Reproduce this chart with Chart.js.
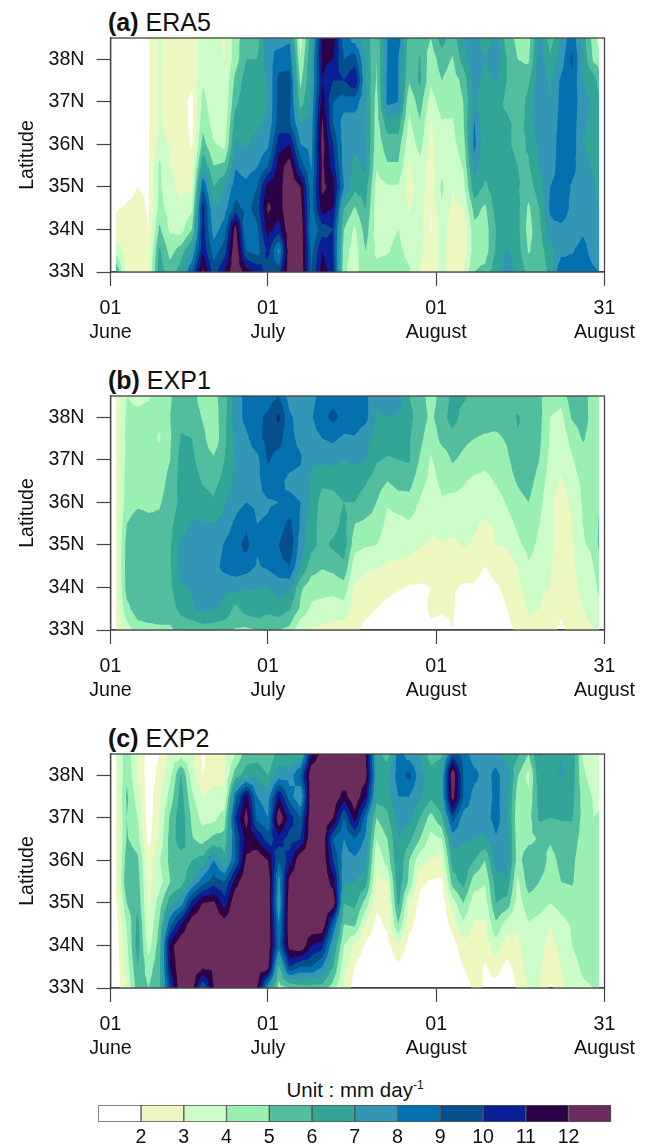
<!DOCTYPE html>
<html>
<head>
<meta charset="utf-8">
<script src="https://cdn.jsdelivr.net/npm/chart.js@4"></script>
<style>
  html, body { margin: 0; padding: 0; background: #fff; }
  body { position: relative; width: 646px; height: 1145px; overflow: hidden; font-family: "Liberation Sans", Arial, sans-serif; color: #111; }
  canvas { position: absolute; left: 0; }
  .head { position: absolute; left: 108px; font-size: 25px; line-height: 28px; white-space: nowrap; }
  #unit { position: absolute; left: 0; width: 710px; top: 1078px; text-align: center; font-size: 20.5px; line-height: 24px; }
  #unit sup { font-size: 12px; line-height: 0; }
</style>
</head>
<body>
<div class="head" style="top:8px"><b>(a)</b> ERA5</div>
<canvas id="panelA" width="646" height="350" style="top:0"></canvas>
<div class="head" style="top:366px"><b>(b)</b> EXP1</div>
<canvas id="panelB" width="646" height="350" style="top:358px"></canvas>
<div class="head" style="top:724px"><b>(c)</b> EXP2</div>
<canvas id="panelC" width="646" height="350" style="top:716px"></canvas>
<div id="unit">Unit : mm day<sup>-1</sup></div>
<canvas id="colorBar" width="646" height="55" style="top:1090px"></canvas>

<script>
// Axis labels
const latTicks = [33, 34, 35, 36, 37, 38];
const dayTicks = [0, 29, 60, 91];
const dayTickLabels = [['01', 'June'], ['01', 'July'], ['01', 'August'], ['31', 'August']];

// Grid the values were read on
const latitudes = [38.5, 38, 37.5, 37, 36.5, 36, 35.5, 35, 34.5, 34, 33.5, 33];
const days = [1, 3, 5, 7, 9, 11, 13, 15, 17, 19, 21, 23, 25, 27, 29, 31, 33, 35, 37, 39, 41, 43, 45,
  47, 49, 51, 53, 55, 57, 59, 61, 63, 65, 67, 69, 71, 73, 75, 77, 79, 81, 83, 85, 87, 89, 90];

// Rain rate, one line per entry of days, north to south along latitudes
const era5 = [
  [.5, .5, .5, .5, .5, .5, .5, .5, 1.9, 2.5, 3.5, 6],
  [1, 1, 1, 1, 1, 1, 1, 1.5, 2.2, 2.5, 2.5, 2.5],
  [1, 1, 1, 1, 1, 1, 1, 2, 2.3, 2.5, 2.5, 2.8],
  [1.9, 1.9, 1.9, 1.9, 1.9, 1.9, 1.9, 1.9, 1.9, 2, 2.5, 3],
  [3.2, 3.2, 3.2, 3.2, 3.2, 3.4, 4.2, 4.2, 4.4, 5.2, 6.2, 6.5],
  [2.5, 2.5, 2.3, 2.1, 2.5, 2.9, 3, 3.2, 3.5, 3.8, 4.6, 5.5],
  [2.5, 2.5, 2.5, 2.3, 2.3, 2.5, 2.7, 2.8, 3.1, 3.6, 5.5, 6.5],
  [2.6, 2.4, 2.2, 1.8, 1.8, 1.9, 2.5, 2.9, 3.8, 5, 7, 9],
  [3.4, 3.5, 3.9, 4.3, 4.7, 5.4, 6.8, 9, 10.5, 10.5, 10.8, 12.3],
  [3.2, 3.1, 3.2, 3.4, 3.6, 4.1, 5, 6, 7, 7.5, 8.5, 9.5],
  [2.9, 3, 3, 3.1, 3.4, 3.7, 5.2, 7, 7.5, 8.5, 9.5, 11],
  [4.5, 4.5, 5.3, 5.8, 6.5, 7.1, 7.9, 8.5, 9.4, 12.5, 13, 13],
  [5.7, 6, 6.5, 6.5, 6.7, 6.9, 7.5, 8.3, 8.6, 8, 9, 11.5],
  [5.5, 6, 6.5, 6.6, 6.8, 7.3, 7.9, 9, 9.5, 8.8, 8.5, 10.8],
  [8, 7.5, 7.1, 7, 7.2, 7.8, 9, 11.5, 12.2, 11.5, 10.3, 9.5],
  [7.5, 8.5, 9.3, 9.4, 9.5, 10.5, 11.5, 11.5, 11.5, 10.5, 7.7, 9.5],
  [7.8, 8.6, 9.4, 9.3, 9.1, 11, 12.5, 13, 13, 13, 13, 13],
  [3.5, 4, 4.7, 5.5, 7, 8, 9.5, 12, 12.5, 13, 13, 13],
  [6.5, 7, 7, 7.2, 7.5, 7.7, 7.9, 8.3, 8.5, 8, 8.7, 9],
  [11, 11.3, 11, 11.5, 12.2, 12.5, 12.2, 12.3, 11.5, 9.5, 11, 11.5],
  [11.5, 11, 10, 9, 9, 10, 10.5, 11.5, 11, 10, 10, 10.5],
  [8.5, 9, 10, 8.5, 7.5, 7.5, 7.5, 8, 6, 5, 4.5, 4.2],
  [7.5, 9.5, 11, 8.5, 7.5, 7.2, 6.8, 6.3, 4.9, 3.8, 3.5, 3.4],
  [6.5, 6.8, 7, 7.1, 7.3, 7.2, 7.2, 6.5, 6, 5.5, 5, 5],
  [5.2, 5, 4.9, 4.6, 4.5, 4.4, 4.1, 3.6, 3.5, 3.5, 3.8, 4.3],
  [8, 8, 8.2, 8.3, 6.5, 5.5, 4.9, 3.9, 3.8, 3.7, 3.9, 4.5],
  [8.7, 8, 8, 8, 6.5, 5.5, 4.9, 3.9, 3.9, 4, 4.3, 4.6],
  [5.5, 5.3, 5.1, 4.2, 3.8, 3.3, 2.8, 2.6, 2.9, 3.2, 3.6, 4.2],
  [5.5, 6.1, 6.2, 5.5, 4.9, 4.4, 3.7, 3.5, 3.5, 3.5, 3.2, 2.9],
  [5, 4.4, 4.2, 3.5, 2.9, 2.7, 2.5, 2.4, 2, 1.9, 2.5, 2.9],
  [6.5, 5.5, 5, 4.5, 3.9, 3.6, 3.7, 4.2, 3.9, 3.6, 3.3, 3.1],
  [5.4, 4.9, 4.5, 4.3, 3.9, 3.7, 3.4, 3, 2.8, 2.3, 2.6, 2.9],
  [7, 6.5, 5.3, 5, 4.9, 4.5, 4.1, 3.6, 3, 2.1, 2.2, 3],
  [7.5, 7.7, 7.7, 7.3, 8.1, 8.3, 7.4, 6.7, 5.4, 4.7, 4.6, 5],
  [6.1, 7, 6.5, 6, 6, 6.2, 6.4, 5.8, 4.8, 4.5, 4.5, 5.3],
  [7.5, 7.7, 7.1, 6.6, 6.2, 6.2, 6.4, 6.6, 6.4, 6, 6.1, 6.7],
  [5.5, 6, 6, 5.7, 6.3, 6.2, 6.5, 6.8, 6.6, 6.5, 7.1, 7.5],
  [4.7, 5, 5.2, 5, 5.6, 5.7, 6, 6.1, 6.3, 6.3, 6.4, 6.8],
  [4.5, 4.8, 5.8, 6.4, 6.3, 6.1, 5.9, 5.5, 4.8, 4.6, 4.9, 5.7],
  [7.5, 7.6, 7.7, 8, 7.8, 7.2, 7, 6.6, 6, 5.7, 5.5, 5.5],
  [5.5, 6.2, 6.8, 7, 7, 7, 7.3, 8, 8.2, 7.6, 6.6, 6.2],
  [7, 7.5, 8.2, 8.3, 8.5, 8.8, 8.7, 8.5, 9, 7.6, 7.6, 9],
  [8.8, 9.2, 8.8, 8.6, 8.6, 8.6, 8.3, 7.9, 7.6, 7.3, 7.9, 8.5],
  [6.5, 6.8, 7, 7.4, 7.2, 7, 7.5, 7.6, 7.7, 7.8, 8.4, 8.6],
  [4.5, 4.8, 6.5, 6.8, 6.7, 6.7, 6.8, 7.2, 7.5, 7.5, 7.5, 8.2],
  [3.5, 4.5, 5.5, 6.3, 6.5, 6.5, 6.5, 6.5, 7, 7.2, 7.3, 8]
];

const exp1 = [
  [2.5, 2.5, 2.5, 2.5, 2.5, 2.5, 2.5, 2.5, 2.5, 2.5, 2.5, 2.5],
  [4, 4.2, 4.3, 4.3, 4.4, 4.5, 5, 5.4, 5.5, 5.4, 4.7, 3.5],
  [3.7, 4.3, 4.6, 4.7, 4.8, 4.8, 5.5, 5.7, 5.8, 5.8, 5.6, 4.5],
  [3.9, 4.3, 4.4, 4.5, 4.6, 4.7, 5.3, 5.7, 6, 5.8, 5.6, 4.7],
  [4.6, 4.2, 3.9, 4.4, 4.6, 4.9, 5.2, 5.6, 5.8, 5.7, 5.6, 4.8],
  [4.9, 5, 4.9, 5, 5.3, 5.4, 5.7, 5.9, 5.9, 5.8, 5.6, 4.8],
  [5.5, 5.7, 6.1, 6.4, 6.4, 6.3, 6.7, 7.2, 7.4, 6.9, 6.3, 5.4],
  [5.4, 5.6, 6, 6.2, 6.5, 6.6, 7.1, 7.3, 7.4, 7.1, 6.9, 5.2],
  [4.5, 4.9, 5.3, 5.5, 5.9, 6.4, 7.1, 7.3, 7.5, 7.3, 7.3, 5.5],
  [4.7, 4.4, 4.2, 5.2, 5.7, 6.1, 7, 7.3, 7.5, 7.2, 7.1, 5.4],
  [5.5, 5.7, 5.8, 6, 6.3, 6.9, 7.4, 8.1, 8.4, 7.2, 6.8, 5.3],
  [7.5, 7.5, 7.3, 7.2, 7.3, 7.6, 8.2, 8.7, 8.7, 7.3, 5.7, 4.9],
  [8.3, 8.3, 7.8, 7.5, 7.4, 8, 8.8, 9.3, 8.5, 7.1, 6.5, 4.8],
  [8.4, 8.8, 8.6, 7.7, 7.7, 7.8, 8, 8.1, 7.9, 7, 6.8, 5],
  [8.5, 9.2, 9.4, 9.1, 8.6, 7.9, 8.1, 8.4, 8.2, 7, 6.3, 5.2],
  [9, 10.2, 9.4, 8.6, 8.2, 8, 8.5, 9, 8.7, 7.4, 6.6, 5],
  [7.5, 8.2, 8.2, 8.3, 7.8, 8.2, 9.3, 9.8, 9, 7.3, 6.1, 4.7],
  [7.2, 7.5, 7.8, 8.1, 7.7, 8, 7.9, 7.5, 7, 5.2, 4.8, 3.2],
  [7.6, 7.9, 7.6, 7.1, 6.9, 6.7, 6.4, 6.3, 5.5, 4.4, 3.8, 2.9],
  [8.5, 8.7, 8, 7.2, 6.2, 5.6, 5.6, 5.7, 5.1, 4.4, 3.6, 2.8],
  [8.6, 9.3, 8.2, 7.3, 6.3, 5.6, 5.6, 6.2, 5.3, 4.4, 3.4, 2.6],
  [8.2, 8.7, 7.8, 7, 6.6, 6, 6.3, 6.5, 5.8, 4.6, 3.6, 2.5],
  [8.6, 8.6, 7.9, 7.2, 6.4, 6, 5, 4.4, 3.4, 2.9, 2.4, 2.2],
  [8.3, 8.3, 7.3, 7, 6.1, 5.6, 4.8, 4.1, 3.1, 2.7, 2.2, 1.8],
  [7.1, 6.9, 6.7, 6.1, 5.5, 5, 4.7, 4, 3.1, 2.5, 2, 1.7],
  [7.5, 7, 6.5, 5.9, 5, 4.1, 3.7, 3.4, 2.9, 2.3, 1.7, 1.4],
  [7.5, 6.9, 6.4, 6, 5.4, 4.5, 3.6, 3.2, 2.9, 2.1, 1.5, 1.2],
  [6, 6.3, 6.1, 6.1, 5.4, 4.6, 3.9, 3.2, 2.8, 1.9, 1.4, 1.2],
  [5.5, 5.5, 5.3, 4.9, 4.4, 3.9, 3.6, 3.1, 2.4, 1.9, 1.5, 1.3],
  [4.5, 4.8, 4.3, 3.9, 3.7, 3.3, 3.2, 2.8, 2.3, 2, 2.2, 1.8],
  [5.4, 5.5, 5.3, 4.4, 4.2, 3.9, 3.5, 2.9, 2.7, 2.4, 2.1, 1.7],
  [6.2, 6.5, 5.5, 5.1, 4.5, 3.6, 3.3, 2.8, 2.4, 2.1, 2.1, 2],
  [6.2, 5.6, 5.2, 4.8, 4.1, 3.7, 3.4, 3.1, 2.4, 1.9, 1.5, 1.5],
  [5.6, 5.4, 5, 4.5, 3.8, 3.3, 3.1, 2.9, 2.4, 1.9, 1.6, 1.5],
  [5.5, 5.3, 4.9, 4.3, 3.7, 3.3, 2.9, 2.7, 2, 1.5, 1.3, 1.3],
  [5.5, 5.4, 4.8, 4.5, 4.1, 3.5, 3.1, 3, 2.4, 1.9, 1.6, 1.5],
  [5.6, 5.5, 5.1, 4.8, 4.6, 4.1, 3.6, 3.1, 2.5, 2.2, 2, 1.7],
  [5.5, 6.1, 5.9, 5.5, 5.1, 4.7, 4.2, 3.8, 3, 2.8, 2.6, 2.2],
  [5.5, 5.6, 5.9, 5.7, 5.4, 5, 4.6, 4.3, 3.9, 3.3, 3.1, 2.8],
  [5.2, 5.3, 5.2, 5, 4.6, 4.3, 4, 3.8, 3.6, 3.2, 3, 2.7],
  [4.5, 4, 3.9, 3.7, 3.5, 3.2, 3.3, 3.2, 3.1, 3, 2.5, 2.4],
  [4.4, 3.7, 3.4, 3.2, 2.9, 2.5, 2.4, 2.4, 2.4, 2.3, 2.2, 1.8],
  [5.6, 5.1, 4.3, 3.9, 3.6, 3.2, 3, 2.9, 2.8, 2.7, 2.6, 2.3],
  [5.5, 5.4, 5.1, 4.5, 4.2, 4.1, 4, 3.9, 3.4, 3.2, 3, 2.6],
  [4.4, 4.6, 4.6, 4.5, 4.4, 4.5, 4.4, 4.2, 4, 3.7, 3.4, 3],
  [4.4, 4.5, 4.6, 4.6, 4.7, 4.9, 5.1, 5.2, 4.5, 4.2, 3.8, 3.3]
];

const exp2 = [
  [3, 2.5, 2.4, 2.3, 2.2, 2.2, 2.1, 1.9, 1.5, 1.4, 1.3, 1.3],
  [4.6, 4.8, 5.2, 5, 5.1, 5.6, 6, 5, 4.1, 3.8, 3.5, 3.2],
  [3, 3, 3.5, 4, 4.5, 5.2, 5.5, 5.8, 6.3, 6.5, 6, 5.5],
  [1.5, 1.4, 1.4, 1.4, 1.6, 2.5, 2.6, 2.8, 3, 3.5, 4.5, 5],
  [2, 2.3, 2.8, 3, 3.3, 3.9, 3.5, 4.5, 5.1, 5.5, 5.7, 5.8],
  [3.4, 3.8, 4.4, 5.2, 5.4, 5.3, 5, 6.5, 8.8, 11.5, 11, 9.8],
  [3.5, 6.1, 6.5, 6.7, 6.6, 5.5, 5.5, 7.5, 11, 13, 13, 13],
  [3.3, 3.5, 4.2, 4.8, 5.1, 6, 7, 10.5, 12.8, 13, 13, 12.5],
  [1.8, 2, 3, 3.6, 4.6, 6.4, 8.5, 12, 13, 13, 12.2, 9],
  [2.7, 2.7, 3.3, 3.7, 5.3, 8, 9.5, 12.2, 13, 13, 12.3, 12],
  [2.8, 2.9, 3.1, 4.5, 5.4, 6.3, 9, 10.5, 12.5, 13, 13, 13],
  [4, 5.5, 8.5, 10, 9, 9, 11.5, 13, 13, 13, 13, 12.5],
  [5.5, 6.5, 11.5, 12.5, 11.5, 12.2, 13, 13, 13, 13, 13, 12.5],
  [5.5, 6.8, 8, 8.7, 11, 13, 13, 13, 13, 13, 13, 12],
  [5, 6, 7.5, 8, 9.5, 12, 13, 13, 13, 13, 12.5, 7.5],
  [6.5, 7.5, 11, 13, 10.5, 9, 7.5, 7, 8, 8.5, 5.8, 4.5],
  [6, 7.5, 8.5, 10.5, 9.5, 10.5, 12.5, 13, 13, 12.6, 10, 5],
  [6.3, 9, 7, 9, 10, 13, 13, 13, 13, 13, 9, 5.5],
  [11, 13, 13, 13, 13, 13, 13, 13, 13, 11, 9, 5.5],
  [12.5, 13, 13, 13, 13, 13, 13, 13, 13, 10.5, 8, 5.5],
  [13, 13, 13, 12, 9, 10, 11.5, 13, 9, 7, 6, 4.5],
  [13, 13, 11.5, 9, 8, 7.5, 7.2, 6, 5, 4, 3.4, 2.9],
  [13, 13, 13, 11.5, 9, 7.8, 7, 6.3, 5.2, 2.8, 2, 1.5],
  [12, 12.5, 11, 8.5, 7.8, 7.3, 6.5, 4.6, 2.9, 1.8, 1.4, 1.2],
  [6.5, 7, 6.5, 5, 4, 3.2, 2.7, 2.3, 1.7, 1.4, 1.2, 1.2],
  [5.5, 6.8, 6.5, 5.8, 5, 4.4, 3, 2.4, 2.2, 1.6, 1.3, 1.2],
  [8.5, 8.5, 8, 7.3, 7, 7, 6.8, 6.3, 5, 2.9, 1.8, 1.4],
  [7.5, 9.3, 8, 7.3, 6.3, 5, 4.8, 3, 2.3, 1.6, 1.4, 1.4],
  [7, 7.4, 7.2, 6, 5, 3.4, 2.2, 1.7, 1.5, 1.5, 1.3, 1.3],
  [5.5, 6.4, 6.3, 4.6, 3.6, 2.9, 1.9, 1.4, 1.2, 1.1, 1, 1],
  [5.8, 7, 7, 5.8, 4, 2.8, 1.8, 1.3, 1.2, 1, 1, 1],
  [9.5, 13, 12.6, 9.5, 7.4, 6.5, 5.5, 3.5, 2.4, 1.5, 1.2, 1],
  [8.5, 9, 9, 7.5, 7.1, 6.7, 6.4, 5, 3.8, 2.7, 2, 1.5],
  [7.5, 8.3, 7.6, 7.5, 7, 6, 4.5, 3.4, 2.9, 2.7, 2.5, 2.2],
  [7.5, 7.6, 7.4, 7.6, 6.8, 5, 4.1, 3.5, 2.9, 2.5, 1.9, 1.9],
  [7.5, 8.3, 8.3, 8.4, 7.9, 7.4, 6.5, 6, 4.8, 3.6, 2.4, 1.6],
  [6.5, 7.5, 7.4, 7.3, 7.5, 7.6, 6.8, 5.7, 3.5, 2.5, 1.7, 1.3],
  [6.2, 5.1, 4.5, 4.2, 4.4, 4.5, 3.8, 3.5, 3.1, 2.8, 2.4, 2.1],
  [5, 3.7, 4.2, 4.6, 4.7, 5.8, 5.5, 4.6, 3.9, 3.5, 3.6, 3.1],
  [7.1, 6.8, 6.4, 6.2, 5.1, 5.6, 5, 4.5, 3.6, 3.3, 3.1, 3],
  [6.5, 6.7, 6.3, 6, 5.1, 4.7, 4.6, 4, 3, 2.7, 2.6, 1.8],
  [7, 7.1, 6.5, 6.1, 5.5, 5.2, 5, 4.4, 3.7, 3.2, 3, 2.5],
  [6.8, 6.6, 6.4, 6.1, 5.5, 5.2, 5.1, 4.6, 4.1, 4, 3.8, 3.6],
  [3.9, 4.2, 4.6, 4.7, 4.6, 4.5, 4.4, 4.4, 4.3, 4.2, 4.1, 3.9],
  [3.2, 3.5, 3.9, 4, 4.2, 4.2, 4.2, 4.2, 4.2, 4.1, 4.2, 4],
  [3.3, 3.5, 3.7, 4.1, 4.5, 4.4, 4.5, 4.3, 4.2, 4.2, 5, 5]
];

// Contour levels and fill colours (first colour sits below the first level)
const levels = [2, 3, 4, 5, 6, 7, 8, 9, 10, 11, 12];
const bandColors = ['#ffffff', '#edf8c0', '#ccfcc8', '#99f0b2', '#53bd9f', '#32a696',
  '#3296b4', '#0570b0', '#05508c', '#0a1f96', '#2c0246', '#6a2c5a'];

const labelFont = { family: '"Liberation Sans", Arial, sans-serif', size: 19.6, lineHeight: 1.25 };
const axisColor = '#444';

// Clip a triangle [{x,y,v}..] to v >= level and add what is left to the current path
function addClippedTriangle(ctx, tri, level) {
  const out = [];
  for (let i = 0; i < 3; i++) {
    const a = tri[i];
    const b = tri[(i + 1) % 3];
    if (a.v >= level) out.push(a);
    if ((a.v >= level) !== (b.v >= level)) {
      const t = (level - a.v) / (b.v - a.v);
      out.push({ x: a.x + t * (b.x - a.x), y: a.y + t * (b.y - a.y) });
    }
  }
  if (out.length < 3) return;
  ctx.moveTo(out[0].x, out[0].y);
  for (let i = 1; i < out.length; i++) ctx.lineTo(out[i].x, out[i].y);
  ctx.closePath();
}

// Filled contours, painted from the lowest band up, using the points the scales placed
const contourFill = {
  id: 'contourFill',
  beforeDatasetsDraw(chart) {
    const ctx = chart.ctx;
    const columns = chart.data.datasets.map((ds, i) =>
      chart.getDatasetMeta(i).data.map((pt, j) => ({ x: pt.x, y: pt.y, v: ds.data[j].v })));
    ctx.save();
    levels.forEach((level, k) => {
      ctx.beginPath();
      for (let c = 0; c < columns.length - 1; c++) {
        for (let r = 0; r < latitudes.length - 1; r++) {
          const p = [columns[c][r], columns[c + 1][r], columns[c + 1][r + 1], columns[c][r + 1]];
          const mid = {
            x: (p[0].x + p[2].x) / 2,
            y: (p[0].y + p[2].y) / 2,
            v: (p[0].v + p[1].v + p[2].v + p[3].v) / 4
          };
          for (let e = 0; e < 4; e++) addClippedTriangle(ctx, [p[e], p[(e + 1) % 4], mid], level);
        }
      }
      ctx.fillStyle = bandColors[k + 1];
      ctx.fill();
    });
    ctx.restore();
  },
  afterDraw(chart) {
    const a = chart.chartArea;
    const ctx = chart.ctx;
    ctx.save();
    ctx.strokeStyle = axisColor;
    ctx.lineWidth = 1.3;
    ctx.strokeRect(a.left, a.top, a.right - a.left, a.bottom - a.top);
    ctx.restore();
  }
};

function drawPanel(canvasId, values) {
  new Chart(document.getElementById(canvasId), {
    type: 'scatter',
    data: {
      datasets: days.map((d, c) => ({
        label: 'day ' + d,
        data: latitudes.map((lat, r) => ({ x: d, y: lat, v: values[c][r] })),
        pointRadius: 0,
        showLine: false
      }))
    },
    options: {
      responsive: false,
      animation: false,
      events: [],
      layout: { padding: { top: 38, right: 41.5, left: 0, bottom: 0 } },
      plugins: { legend: { display: false }, tooltip: { enabled: false } },
      scales: {
        x: {
          type: 'linear',
          min: 0,
          max: 91,
          afterBuildTicks: s => { s.ticks = dayTicks.map(v => ({ value: v })); },
          afterFit: s => { s.height = 78; },
          grid: { drawOnChartArea: false, tickLength: 14, tickColor: axisColor, tickWidth: 1.2 },
          border: { color: axisColor, width: 1.3 },
          ticks: {
            autoSkip: false, maxRotation: 0, padding: 10, color: '#111', font: labelFont,
            callback: v => dayTickLabels[dayTicks.indexOf(v)]
          }
        },
        y: {
          type: 'linear',
          min: 33,
          max: 38.5,
          afterBuildTicks: s => { s.ticks = latTicks.map(v => ({ value: v })); },
          afterFit: s => { s.width = 110.5; },
          grid: { drawOnChartArea: false, tickLength: 14, tickColor: axisColor, tickWidth: 1.2 },
          border: { color: axisColor, width: 1.3 },
          title: { display: true, text: 'Latitude', color: '#111', font: labelFont, padding: { top: 15, bottom: 0 } },
          ticks: {
            autoSkip: false, padding: 12, color: '#111', font: labelFont,
            callback: v => v + 'N'
          }
        }
      }
    },
    plugins: [contourFill]
  });
}

drawPanel('panelA', era5);
drawPanel('panelB', exp1);
drawPanel('panelC', exp2);

// Colour bar: one floating bar per band
const barLow = [1].concat(levels);
const barHigh = levels.concat([13]);
new Chart(document.getElementById('colorBar'), {
  type: 'bar',
  data: {
    labels: [''],
    datasets: bandColors.map((col, i) => ({
      label: barLow[i] + '-' + barHigh[i],
      data: [[barLow[i], barHigh[i]]],
      backgroundColor: col,
      borderColor: '#555',
      borderWidth: 1,
      borderSkipped: false,
      barPercentage: 1,
      categoryPercentage: 1
    }))
  },
  options: {
    indexAxis: 'y',
    responsive: false,
    animation: false,
    events: [],
    layout: { padding: { top: 15, left: 98.3, right: 34.7, bottom: 0 } },
    plugins: { legend: { display: false }, tooltip: { enabled: false } },
    scales: {
      x: {
        type: 'linear',
        min: 1,
        max: 13,
        afterBuildTicks: s => { s.ticks = levels.map(v => ({ value: v })); },
        afterFit: s => { s.height = 23; },
        grid: { display: false, drawTicks: false },
        border: { display: false },
        ticks: { autoSkip: false, maxRotation: 0, padding: 3, color: '#111', font: labelFont }
      },
      y: { stacked: true, display: false }
    }
  }
});
</script>
</body>
</html>
